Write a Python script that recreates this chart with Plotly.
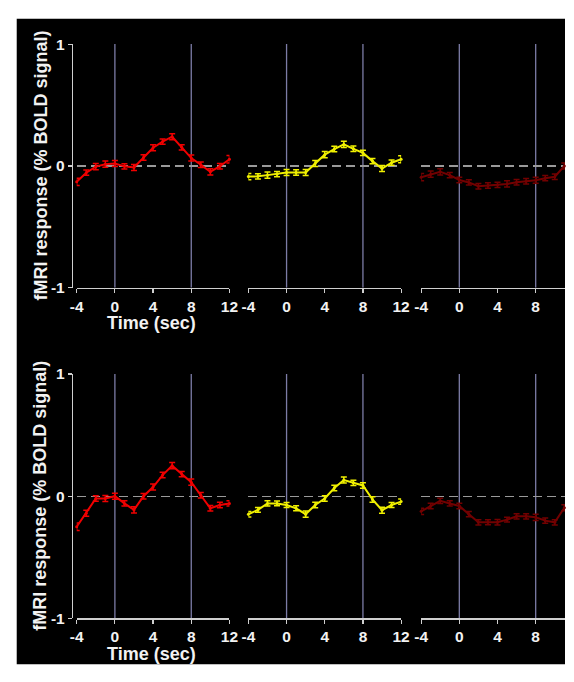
import plotly.graph_objects as go

# ---------------- data ----------------
time = [-4, -3, -2, -1, 0, 1, 2, 3, 4, 5, 6, 7, 8, 9, 10, 11, 12]
x_ticks = [-4, 0, 4, 8, 12]
x_ticklabels = ["-4", "0", "4", "8", "12"]
y_ticks = [-1, 0, 1]
y_ticklabels = ["-1", "0", "1"]
marker_times = [0, 8]

top_red = [-0.13, -0.055, -0.005, 0.015, 0.02, -0.003, -0.012, 0.07, 0.15, 0.2, 0.24, 0.153, 0.065, 0.01, -0.048, -0.002, 0.055]
top_yellow = [-0.087, -0.085, -0.075, -0.067, -0.053, -0.053, -0.053, 0.021, 0.093, 0.139, 0.177, 0.141, 0.107, 0.04, -0.021, 0.027, 0.055]
top_dark = [-0.092, -0.067, -0.048, -0.075, -0.115, -0.135, -0.166, -0.16, -0.155, -0.147, -0.133, -0.125, -0.117, -0.1, -0.088, 0.0, 0.04]
bot_red = [-0.25, -0.139, -0.019, -0.019, 0.0, -0.059, -0.112, 0.0, 0.075, 0.173, 0.25, 0.181, 0.115, 0.008, -0.099, -0.072, -0.059]
bot_yellow = [-0.148, -0.112, -0.059, -0.059, -0.072, -0.099, -0.147, -0.072, -0.019, 0.067, 0.132, 0.109, 0.088, -0.027, -0.115, -0.072, -0.044]
bot_dark = [-0.124, -0.08, -0.038, -0.059, -0.08, -0.147, -0.214, -0.213, -0.213, -0.192, -0.165, -0.165, -0.173, -0.2, -0.214, -0.095, -0.03]

top_red_err = [0.03, 0.022, 0.025, 0.025, 0.025, 0.022, 0.025, 0.022, 0.025, 0.022, 0.025, 0.022, 0.025, 0.022, 0.025, 0.022, 0.03]
top_yellow_err = [0.025, 0.022, 0.025, 0.022, 0.025, 0.022, 0.025, 0.025, 0.025, 0.022, 0.025, 0.022, 0.022, 0.022, 0.025, 0.022, 0.028]
top_dark_err = [0.03, 0.025, 0.025, 0.022, 0.022, 0.022, 0.022, 0.022, 0.022, 0.025, 0.022, 0.022, 0.025, 0.022, 0.022, 0.025, 0.025]
bot_red_err = [0.03, 0.025, 0.022, 0.025, 0.025, 0.022, 0.025, 0.022, 0.025, 0.022, 0.025, 0.022, 0.025, 0.022, 0.022, 0.022, 0.022]
bot_yellow_err = [0.022, 0.02, 0.022, 0.02, 0.02, 0.02, 0.025, 0.022, 0.022, 0.022, 0.025, 0.022, 0.022, 0.022, 0.025, 0.02, 0.022]
bot_dark_err = [0.025, 0.022, 0.022, 0.022, 0.022, 0.022, 0.022, 0.02, 0.022, 0.02, 0.022, 0.022, 0.025, 0.022, 0.022, 0.025, 0.025]

series = [
    (top_red, top_red_err, "#f00000"),
    (top_yellow, top_yellow_err, "#f0f000"),
    (top_dark, top_dark_err, "#720000"),
    (bot_red, bot_red_err, "#f00000"),
    (bot_yellow, bot_yellow_err, "#f0f000"),
    (bot_dark, bot_dark_err, "#720000"),
]

# ---------------- layout geometry (pixels) ----------------
W, H = 574, 682
px_per_sec = 9.82
panel_left = [71.7, 248.3, 426.0]           # pixel of t = -4
row_rows = [(36.0, 286.0), (374.3, 625.0)]  # pixel of y=1, y=-1
yaxis_line_x = 66.7


def fx(p):
    return p / W


def fy(p):
    return (H - p) / H


FONT = "Liberation Sans"
AXIS_COL = "#cfcfcf"
TEXT_COL = "#f2f2f2"
GRID_COL = "#9a9a9a"
VLINE_COL = "#7c7ca6"

fig = go.Figure()
layout = dict(
    width=W, height=H,
    margin=dict(l=0, r=0, t=0, b=0),
    paper_bgcolor="white",
    plot_bgcolor="rgba(0,0,0,0)",
    showlegend=False,
    shapes=[],
    annotations=[],
)

# black background
layout["shapes"].append(dict(type="rect", xref="paper", yref="paper",
                             x0=fx(10), x1=1.0, y0=fy(672), y1=fy(10),
                             fillcolor="black", line=dict(width=0), layer="below"))

idx = 0
for r, (ytop, ybot) in enumerate(row_rows):
    for c in range(3):
        idx += 1
        vals, errs, col = series[idx - 1]
        x0 = panel_left[c]
        x1 = x0 + 16 * px_per_sec
        xmax = 12
        right = fx(x1)
        if right > 1.0:
            xmax = -4 + (W - x0) / px_per_sec
            right = 1.0
        xname = "xaxis" if idx == 1 else f"xaxis{idx}"
        yname = "yaxis" if idx == 1 else f"yaxis{idx}"
        xref = "x" if idx == 1 else f"x{idx}"
        yref = "y" if idx == 1 else f"y{idx}"
        layout[xname] = dict(
            domain=[fx(x0), right], range=[-4, xmax], anchor=yref,
            showline=True, linecolor=AXIS_COL, linewidth=1.2,
            ticks="outside", ticklen=4, tickwidth=1.2, tickcolor=AXIS_COL,
            tickmode="array", tickvals=x_ticks, ticktext=x_ticklabels,
            tickfont=dict(family=FONT, size=15.5, color=TEXT_COL, weight="bold"),
            showgrid=False, zeroline=False, fixedrange=True,
        )
        yd = dict(
            domain=[fy(ybot), fy(ytop)], range=[-1, 1],
            tickmode="array", tickvals=y_ticks, ticktext=y_ticklabels,
            showgrid=True, gridcolor=GRID_COL, griddash="9px,5px", gridwidth=1.2,
            zeroline=False, fixedrange=True,
        )
        if c == 0:
            yd.update(anchor="free", position=fx(yaxis_line_x),
                      showline=True, linecolor=AXIS_COL, linewidth=1.2,
                      ticks="outside", ticklen=4, tickwidth=1.2, tickcolor=AXIS_COL,
                      tickfont=dict(family=FONT, size=15.5, color=TEXT_COL, weight="bold"))
        else:
            yd.update(anchor=xref, showline=False, ticks="", showticklabels=False)
        layout[yname] = yd

        for t in marker_times:
            layout["shapes"].append(dict(type="line", xref=xref, yref=yref,
                                         x0=t, x1=t, y0=-1, y1=1,
                                         line=dict(color=VLINE_COL, width=1.3), layer="below"))

        fig.add_trace(go.Scatter(
            x=time, y=vals, xaxis=xref, yaxis=yref,
            mode="lines+markers",
            line=dict(color=col, width=2),
            marker=dict(color=col, size=3),
            error_y=dict(type="data", array=errs, color=col, thickness=1.5, width=3),
            cliponaxis=False, hoverinfo="skip",
        ))

    # axis titles (text) for this row
    ymid = (ytop + ybot) / 2
    layout["annotations"].append(dict(
        text="fMRI response (% BOLD signal)", xref="paper", yref="paper",
        x=fx(34.5), y=fy(ymid), textangle=-90, showarrow=False,
        xanchor="center", yanchor="middle",
        font=dict(family=FONT, size=18, color=TEXT_COL, weight="bold")))
    layout["annotations"].append(dict(
        text="Time (sec)", xref="paper", yref="paper",
        x=fx(149), y=fy(ybot + 36), showarrow=False,
        xanchor="center", yanchor="middle",
        font=dict(family=FONT, size=18, color=TEXT_COL, weight="bold")))

fig.update_layout(**layout)
fig.write_html(
    "out.html",
    config={"displayModeBar": False, "staticPlot": True},
    post_script="document.body.style.margin='0';"
                "document.body.style.overflow='hidden';"
                "document.documentElement.style.overflow='hidden';",
)
